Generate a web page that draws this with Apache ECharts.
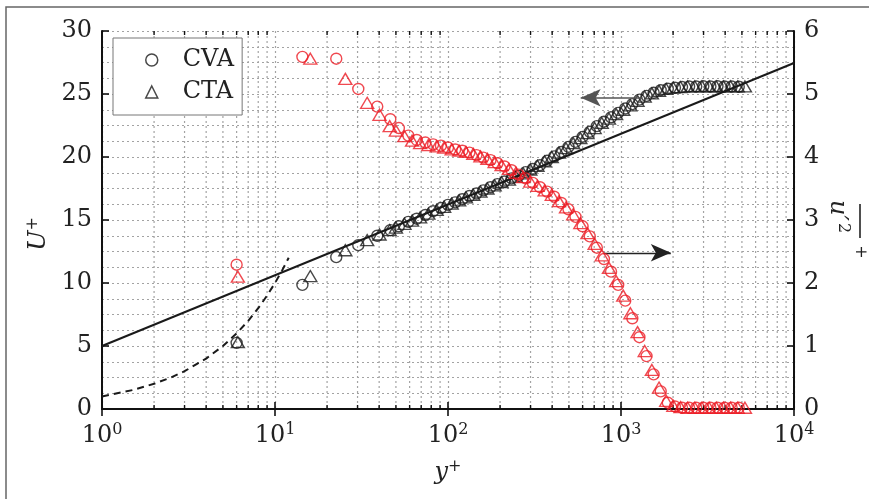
<!DOCTYPE html>
<html>
<head>
<meta charset="utf-8">
<script src="https://cdn.jsdelivr.net/npm/echarts@6/dist/echarts.min.js"></script>
<style>
html,body{margin:0;padding:0;background:#fff;}
#chart{width:869px;height:499px;}
</style>
</head>
<body>
<div id="chart"></div>
<script>
// ---------- data ----------
const yCVA = [6.0, 14.4, 22.6, 30.3, 39.0, 46.4, 52, 59, 66, 74, 82, 91, 100, 110, 121, 133, 146, 160, 176, 193, 212, 233, 256, 281, 309, 340, 374, 411, 452, 497, 546, 600, 660, 725, 797, 876, 963, 1058, 1163, 1278, 1405, 1544, 1697, 1865, 2050, 2253, 2476, 2721, 2990, 3286, 3611, 3968, 4361, 4793];
const uCVA = [5.25, 9.85, 12.05, 13.0, 13.75, 14.2, 14.5, 14.85, 15.1, 15.4, 15.7, 15.95, 16.2, 16.4, 16.65, 16.9, 17.1, 17.35, 17.6, 17.85, 18.05, 18.3, 18.5, 18.8, 19.05, 19.35, 19.7, 20.05, 20.4, 20.8, 21.2, 21.6, 22.0, 22.45, 22.8, 23.15, 23.5, 23.85, 24.2, 24.55, 24.85, 25.1, 25.3, 25.42, 25.5, 25.55, 25.6, 25.6, 25.62, 25.6, 25.62, 25.6, 25.6, 25.58];
const rCVA = [2.29, 5.59, 5.56, 5.08, 4.80, 4.60, 4.46, 4.34, 4.27, 4.23, 4.20, 4.18, 4.15, 4.12, 4.10, 4.07, 4.03, 3.99, 3.95, 3.90, 3.85, 3.79, 3.72, 3.66, 3.59, 3.52, 3.45, 3.37, 3.27, 3.17, 3.05, 2.90, 2.74, 2.56, 2.38, 2.18, 1.97, 1.72, 1.44, 1.14, 0.84, 0.55, 0.28, 0.10, 0.04, 0.02, 0.02, 0.02, 0.02, 0.02, 0.02, 0.02, 0.02, 0.02];

const yCTA = [6.1, 16.0, 25.5, 34.1, 40.2, 46.0, 50, 56, 62, 69, 77, 86, 95, 105, 116, 127, 140, 154, 169, 186, 204, 225, 247, 272, 299, 329, 362, 398, 438, 481, 529, 582, 640, 704, 774, 852, 937, 1030, 1133, 1246, 1371, 1508, 1659, 1825, 2007, 2208, 2429, 2672, 2939, 3233, 3556, 3911, 4302, 4732, 5205];
const uCTA = [5.3, 10.55, 12.6, 13.4, 13.85, 14.2, 14.4, 14.7, 14.95, 15.2, 15.5, 15.8, 16.05, 16.3, 16.55, 16.8, 17.0, 17.25, 17.5, 17.75, 18.0, 18.2, 18.45, 18.7, 19.0, 19.3, 19.65, 20.0, 20.35, 20.7, 21.1, 21.5, 21.9, 22.3, 22.7, 23.05, 23.4, 23.75, 24.1, 24.45, 24.8, 25.05, 25.25, 25.4, 25.5, 25.55, 25.6, 25.6, 25.6, 25.6, 25.6, 25.6, 25.6, 25.6, 25.6];
const rCTA = [2.10, 5.56, 5.24, 4.86, 4.67, 4.49, 4.42, 4.33, 4.26, 4.22, 4.19, 4.17, 4.15, 4.12, 4.10, 4.08, 4.05, 4.01, 3.97, 3.92, 3.87, 3.81, 3.75, 3.68, 3.61, 3.54, 3.47, 3.40, 3.30, 3.20, 3.09, 2.95, 2.79, 2.62, 2.44, 2.24, 2.03, 1.80, 1.52, 1.22, 0.92, 0.62, 0.34, 0.13, 0.05, 0.03, 0.02, 0.02, 0.02, 0.02, 0.02, 0.02, 0.02, 0.02, 0.02];

// log law U+ = ln(y+)/0.41 + 5 (end points)
const logLawY = [1, 10000];
const logLawU = [5.0, 27.46];
// viscous sublayer U+ = y+
const viscY = [1, 1.5, 2, 2.5, 3, 4, 5, 6, 7, 8, 9, 10, 11, 12];
const viscU = [1, 1.5, 2, 2.5, 3, 4, 5, 6, 7, 8, 9, 10, 11, 12];

// arrows: [y+ start, y+ end, U+]
const arrowLeft = [1336, 585, 24.7];
const arrowRight = [795, 1941, 12.4];

const minorX = [2, 3, 4, 5, 6, 7, 8, 9, 20, 30, 40, 50, 60, 70, 80, 90, 200, 300, 400, 500, 600, 700, 800, 900, 2000, 3000, 4000, 5000, 6000, 7000, 8000, 9000];
const legendNames = ['CVA', 'CTA'];

// ---------- styling ----------
const FONT = 'DejaVu Serif';
const FS = 24, FSS = 16;
const RED = '#ec1c24';
const BLK = '#1a1a1a';
const GRIDC = '#a3a3a3';
const TXT = '#222';
const zip = (a, b) => a.map((v, i) => [v, b[i]]);

const chart = echarts.init(document.getElementById('chart'), null, {renderer: 'canvas'});

const supRich = {
  i: {fontFamily: FONT, fontSize: FS, fontStyle: 'italic', color: TXT, lineHeight: 28},
  s: {fontFamily: FONT, fontSize: FSS, color: TXT, verticalAlign: 'top', lineHeight: 28}
};

const option = {
  backgroundColor: '#fff',
  animation: false,
  grid: {left: 102, top: 31, width: 692, height: 378, containLabel: false, outerBoundsMode: 'none'},
  legend: {
    orient: 'vertical', left: 113, top: 38,
    padding: [10, 8, 11, 32], itemGap: 8, itemWidth: 12, itemHeight: 12,
    borderColor: '#777', borderWidth: 1, backgroundColor: '#fff',
    selectedMode: false,
    data: [
      {name: legendNames[0], icon: 'circle', itemStyle: {color: 'rgba(0,0,0,0)', borderColor: BLK, borderWidth: 1.5}},
      {name: legendNames[1], icon: 'triangle', itemStyle: {color: 'rgba(0,0,0,0)', borderColor: BLK, borderWidth: 1.5}}
    ],
    formatter: n => '{t|' + n + '}',
    textStyle: {rich: {t: {fontFamily: FONT, fontSize: FS, color: TXT, lineHeight: 25, padding: [0, 0, 0, 20]}}}
  },
  xAxis: [
    {
      type: 'log', logBase: 10, min: 1, max: 10000, position: 'bottom',
      axisLine: {show: true, lineStyle: {color: '#111', width: 2}},
      axisTick: {show: true, inside: true, length: 7, lineStyle: {color: '#111', width: 1.6}},
      splitLine: {show: true, lineStyle: {color: GRIDC, type: [2, 3], width: 1.2}},
      axisLabel: {
        margin: 13,
        formatter: v => '{b|10}{s|' + Math.round(Math.log10(v)) + '}',
        rich: {
          b: {fontFamily: FONT, fontSize: FS, color: TXT, lineHeight: 28},
          s: {fontFamily: FONT, fontSize: FSS, color: TXT, verticalAlign: 'top', lineHeight: 28}
        }
      },
      name: '{i|y}{s|+}', nameLocation: 'middle', nameGap: 50,
      nameTextStyle: {rich: supRich}
    },
    {
      type: 'log', logBase: 10, min: 1, max: 10000, position: 'top',
      axisLine: {show: true, lineStyle: {color: '#111', width: 2}},
      axisTick: {show: true, inside: true, length: 7, lineStyle: {color: '#111', width: 1.6}},
      splitLine: {show: false}, axisLabel: {show: false}
    }
  ],
  yAxis: [
    {
      type: 'value', min: 0, max: 30, interval: 5, position: 'left',
      axisLine: {show: true, lineStyle: {color: '#111', width: 2}},
      axisTick: {show: true, inside: true, length: 7, lineStyle: {color: '#111', width: 1.6}},
      splitLine: {show: false},
      axisLabel: {margin: 10, fontFamily: FONT, fontSize: FS, color: TXT, lineHeight: 22},
      name: '{i|U}{s|+}', nameLocation: 'middle', nameGap: 47,
      nameTextStyle: {padding: [0, 28, 0, 0], rich: supRich}
    },
    {
      type: 'value', min: 0, max: 6, interval: 1, position: 'right',
      axisLine: {show: true, lineStyle: {color: '#111', width: 2}},
      axisTick: {show: true, inside: true, length: 7, lineStyle: {color: '#111', width: 1.6}},
      splitLine: {show: true, lineStyle: {color: GRIDC, type: [2, 3], width: 1.2}},
      minorTick: {show: false, splitNumber: 4},
      minorSplitLine: {show: true, lineStyle: {color: GRIDC, type: [2, 3], width: 1.2}},
      axisLabel: {margin: 10, fontFamily: FONT, fontSize: FS, color: TXT, lineHeight: 20}
    }
  ],
  graphic: [
    {type: 'rect', z: -10, silent: true, shape: {x: 6, y: 7, width: 880, height: 520}, style: {fill: 'none', stroke: '#666', lineWidth: 1.5}},
    {
      type: 'group', x: 843, y: 219, rotation: -Math.PI / 2, silent: true,
      children: [
        {type: 'text', x: -19, y: 18, style: {text: 'u\u2032', fontFamily: FONT, fontSize: FS, fontStyle: 'italic', fill: TXT, align: 'left', verticalAlign: 'bottom'}},
        {type: 'text', x: 4, y: 8, style: {text: '2', fontFamily: FONT, fontSize: FSS, fill: TXT, align: 'left', verticalAlign: 'bottom'}},
        {type: 'line', shape: {x1: -15, y1: -17, x2: 19, y2: -17}, style: {stroke: TXT, lineWidth: 1.6}},
        {type: 'text', x: 33, y: -17, style: {text: '+', fontFamily: FONT, fontSize: FSS, fill: TXT, align: 'center', verticalAlign: 'middle'}}
      ]
    }
  ],
  series: [
    {
      type: 'custom', xAxisIndex: 0, yAxisIndex: 1, z: 1, silent: true,
      data: minorX.map(v => [v, 0]),
      renderItem: (params, api) => {
        const x = api.coord([api.value(0), 0])[0];
        const cs = params.coordSys;
        const top = cs.y, bot = cs.y + cs.height;
        return {type: 'group', children: [
          {type: 'line', shape: {x1: x, y1: top, x2: x, y2: bot}, style: {stroke: GRIDC, lineDash: [2, 3], lineWidth: 1.2}},
          {type: 'line', shape: {x1: x, y1: bot, x2: x, y2: bot - 4}, style: {stroke: '#111', lineWidth: 1.4}},
          {type: 'line', shape: {x1: x, y1: top, x2: x, y2: top + 4}, style: {stroke: '#111', lineWidth: 1.4}}
        ]};
      }
    },
    {
      type: 'line', name: 'loglaw', xAxisIndex: 0, yAxisIndex: 0, z: 3, silent: true,
      data: zip(logLawY, logLawU), symbol: 'none',
      lineStyle: {color: BLK, width: 2},
      markLine: {
        silent: true, symbol: ['none', 'arrow'], symbolSize: [13, 20],
        label: {show: false},
        data: [
          [{coord: [arrowLeft[0], arrowLeft[2]], lineStyle: {color: '#555', width: 1.6, type: 'solid'}, itemStyle: {color: BLK}}, {coord: [arrowLeft[1], arrowLeft[2]]}],
          [{coord: [arrowRight[0], arrowRight[2]], lineStyle: {color: '#222', width: 1.4, type: 'solid'}, itemStyle: {color: BLK}}, {coord: [arrowRight[1], arrowRight[2]]}]
        ],
        lineStyle: {color: '#333', width: 1.5, type: 'solid'},
        itemStyle: {color: BLK}
      }
    },
    {
      type: 'line', name: 'visc', xAxisIndex: 0, yAxisIndex: 0, z: 3, silent: true,
      data: zip(viscY, viscU), symbol: 'none',
      lineStyle: {color: BLK, width: 2, type: [7, 5]}
    },
    {
      type: 'scatter', name: legendNames[0], xAxisIndex: 0, yAxisIndex: 0, z: 4,
      data: zip(yCVA, uCVA), symbol: 'circle', symbolSize: 11,
      itemStyle: {color: 'rgba(0,0,0,0)', borderColor: BLK, borderWidth: 1.4}
    },
    {
      type: 'scatter', name: legendNames[1], xAxisIndex: 0, yAxisIndex: 0, z: 4,
      data: zip(yCTA, uCTA), symbol: 'triangle', symbolSize: [13, 11],
      itemStyle: {color: 'rgba(0,0,0,0)', borderColor: BLK, borderWidth: 1.4}
    },
    {
      type: 'scatter', name: legendNames[0], xAxisIndex: 0, yAxisIndex: 1, z: 5,
      data: zip(yCVA, rCVA), symbol: 'circle', symbolSize: 11,
      itemStyle: {color: 'rgba(0,0,0,0)', borderColor: RED, borderWidth: 1.4}
    },
    {
      type: 'scatter', name: legendNames[1], xAxisIndex: 0, yAxisIndex: 1, z: 5,
      data: zip(yCTA, rCTA), symbol: 'triangle', symbolSize: [13, 11],
      itemStyle: {color: 'rgba(0,0,0,0)', borderColor: RED, borderWidth: 1.4}
    }
  ]
};
chart.setOption(option);
</script>
</body>
</html>
